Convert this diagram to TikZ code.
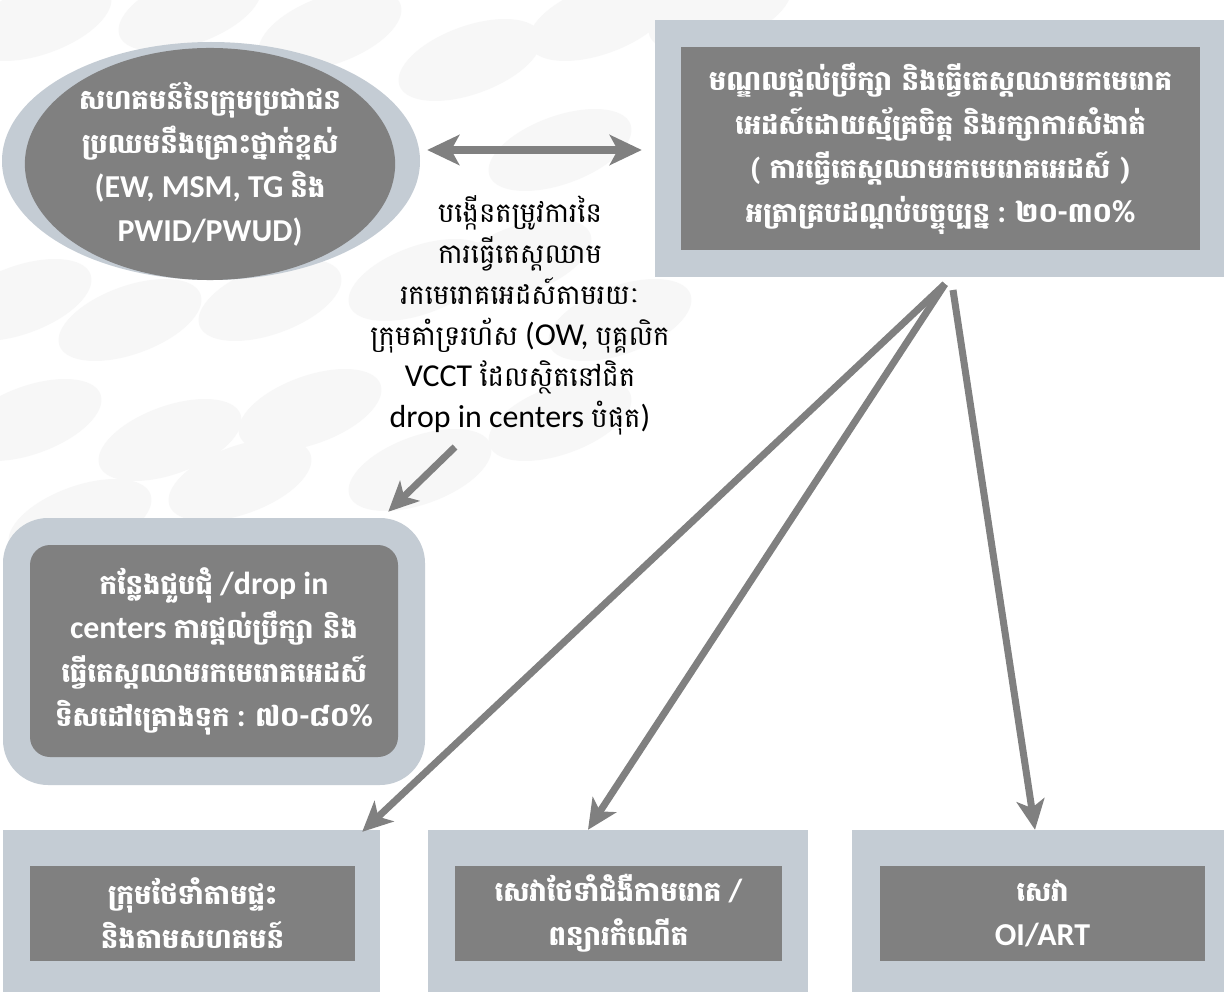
\documentclass[tikz,border=0pt]{standalone}
\usepackage{fontspec}
\setmainfont{Carlito}[Scale=1.16]
\newfontfamily\latb{Carlito Bold}[Scale=1.16]
\newfontfamily\km[Script=Khmer]{Battambang}
\usetikzlibrary{shapes.geometric,arrows.meta,calc}
\definecolor{lightc}{HTML}{C4CCD4}
\definecolor{darkc}{HTML}{808080}
\definecolor{bgc}{HTML}{F7F7F7}
\newcommand{\kh}[1]{{\km\bfseries #1}}
\newcommand{\khr}[1]{{\km #1}}
\newcommand{\lb}[1]{{\latb #1}}
\begin{document}
\begin{tikzpicture}[x=1pt,y=-1pt,
  outerbox/.style={fill=lightc, draw=none, inner sep=0pt},
  innerbox/.style={fill=darkc, draw=none, inner sep=0pt, text=white, align=center,
     font=\fontsize{27.5}{44}\selectfont},
  arr/.style={draw=darkc, line width=7pt, -{Stealth[length=30pt,width=28pt,inset=8pt]}},
  dblarr/.style={draw=darkc, line width=8pt, {Stealth[length=32pt,width=30pt,inset=8pt]}-{Stealth[length=32pt,width=30pt,inset=8pt]}},
  swirl/.style={fill=bgc, draw=none}]
\useasboundingbox (0,0) rectangle (1224,992);
\fill[white] (0,0) rectangle (1224,992);
% faint background ovals
\foreach \x/\y in {40/20, 190/10, 330/30, 470/60, 600/20, 720/10, 560/150, 20/300, 130/320, 270/300, 420/280, 520/260,
  30/420, 170/440, 310/410, 420/470, 80/520, 240/480, 620/320, 560/420}
  {\fill[swirl, rotate around={20:(\x,\y)}] (\x,\y) ellipse [x radius=75pt, y radius=34pt];}
% community ellipse
\node[ellipse, outerbox, minimum width=418pt, minimum height=238pt] (comOut) at (211,161) {};
\node[ellipse, innerbox, minimum width=355pt, minimum height=190pt] (com) at (210,164)
  {\kh{សហគមន៍នៃក្រុមប្រជាជន}\\\kh{ប្រឈមនឹងគ្រោះថ្នាក់ខ្ពស់}\\\lb{(EW, MSM, TG} \kh{និង}\\\lb{PWID/PWUD)}};
% VCCT box
\node[rectangle, outerbox, minimum width=569pt, minimum height=257pt] (vcOut) at (939.5,148.5) {};
\node[rectangle, innerbox, minimum width=519pt, minimum height=203pt] (vc) at (940.5,148.5)
  {\kh{មណ្ឌលផ្តល់ប្រឹក្សា និងធ្វើតេស្តឈាមរកមេរោគ}\\\kh{អេដស៍ដោយស្ម័គ្រចិត្ត និងរក្សាការសំងាត់}\\\kh{( ការធ្វើតេស្តឈាមរកមេរោគអេដស៍ )}\\\kh{អត្រាគ្របដណ្តប់បច្ចុប្បន្ន} \lb{:} \kh{២០}\lb{-}\kh{៣០}\lb{\%}};
% middle label
\node[align=center, inner sep=0pt, font=\fontsize{27.5}{41}\selectfont] (lbl) at (520,315)
  {\khr{បង្កើនតម្រូវការនៃ}\\\khr{ការធ្វើតេស្តឈាម}\\\khr{រកមេរោគអេដស៍តាមរយៈ}\\\khr{ក្រុមគាំទ្ររហ័ស} (OW, \khr{បុគ្គលិក}\\VCCT \khr{ដែលស្ថិតនៅជិត}\\drop in centers \khr{បំផុត})};
% drop-in box
\node[rectangle, outerbox, rounded corners=45pt, minimum width=422pt, minimum height=267pt] (dOut) at (214,651.5) {};
\node[rectangle, innerbox, rounded corners=20pt, minimum width=368pt, minimum height=212pt] (d) at (214,651)
  {\kh{កន្លែងជួបជុំ} \lb{/drop in}\\\lb{centers} \kh{ការផ្តល់ប្រឹក្សា និង}\\\kh{ធ្វើតេស្តឈាមរកមេរោគអេដស៍}\\\kh{ទិសដៅគ្រោងទុក} \lb{:} \kh{៧០}\lb{-}\kh{៨០}\lb{\%}};
% bottom boxes
\node[rectangle, outerbox, minimum width=377pt, minimum height=162pt] (aOut) at (191.5,911) {};
\node[rectangle, innerbox, minimum width=325pt, minimum height=95pt] (a) at (192.5,913)
  {\kh{ក្រុមថែទាំតាមផ្ទះ}\\\kh{និងតាមសហគមន៍}};
\node[rectangle, outerbox, minimum width=380pt, minimum height=162pt] (bOut) at (618,911) {};
\node[rectangle, innerbox, minimum width=327pt, minimum height=95pt] (b) at (618.5,913)
  {\kh{សេវាថែទាំជំងឺកាមរោគ} \lb{/}\\\kh{ពន្យារកំណើត}};
\node[rectangle, outerbox, minimum width=372pt, minimum height=162pt] (cOut) at (1038,911) {};
\node[rectangle, innerbox, minimum width=325pt, minimum height=95pt] (c) at (1042.5,913)
  {\kh{សេវា}\\\lb{OI/ART}};
% connectors
\draw[dblarr] ($(comOut.east)+(7,-11)$) -- ($(vcOut.west)+(-13,1.5)$);
\coordinate (s1) at (455,447);
\draw[arr] (s1) -- ($(dOut.north east)+(-37,-6)$);
\coordinate (apex) at (945,284);
\coordinate (apex2) at (953,290);
\draw[arr] (apex) -- ($(aOut.north east)+(-18,2)$);
\draw[arr] (apex) -- ($(bOut.north)+(-30,0)$);
\draw[arr] (apex2) -- ($(cOut.north)+(-3,0)$);
\end{tikzpicture}
\end{document}
